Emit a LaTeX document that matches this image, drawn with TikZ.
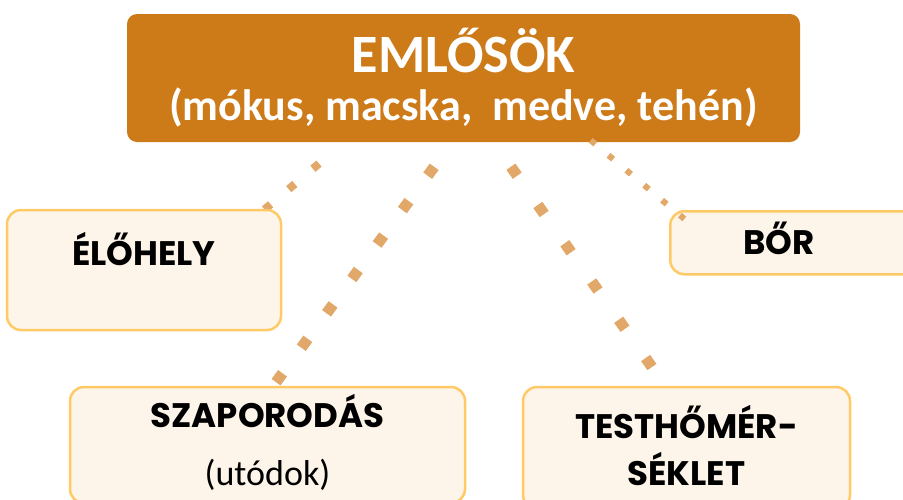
\documentclass[tikz,border=0pt]{standalone}
\usepackage{fontspec}
\setmainfont{Carlito}
\newfontfamily\headfont{Poppins}
\usepackage{tikz}
\usetikzlibrary{calc}

\pgfdeclarelayer{background}
\pgfsetlayers{background,main}

\definecolor{mammal}{HTML}{CD7A18}
\definecolor{boxfill}{HTML}{FEF5EA}
\definecolor{boxline}{HTML}{FFCA66}
\definecolor{dotcol}{HTML}{E1A869}

\begin{document}
\begin{tikzpicture}[
				x=1pt, y=-1pt,
				main style/.style={
					fill=mammal,
					draw=none,
					rounded corners=10pt,
					text=white,
					align=center,
					font=\fontsize{44pt}{48pt}\selectfont\bfseries,
					minimum width=673pt,
					minimum height=128pt,
					text height=92pt,
					text depth=8pt
				},
				box style/.style={
					fill=boxfill,
					draw=boxline,
					line width=2.5pt,
					rounded corners=14pt,
					align=center,
					text=black,
					font=\headfont\bfseries\fontsize{34pt}{47pt}\selectfont
				},
				dot line/.style 2 args={
					draw=dotcol,
					line width=#1,
					dash pattern=on #1 off #2
				}
				]
				
				\useasboundingbox (0,0) rectangle (903,499);
				\clip (0,0) rectangle (903,499);
				
				\node[main style] (top) at (463.5,78)
				{{\fontsize{54pt}{48pt}\selectfont EMLŐSÖK}\\(mókus, macska,~ medve, tehén)};
				
				\node[box style, minimum width=274pt, minimum height=120pt,
				text height=28pt, text depth=38pt] (elo) at (144,270)
				{ÉLŐHELY};
				
				\node[box style, anchor=north west, minimum height=63pt,
				inner ysep=0pt, inner xsep=73pt, text width=170pt, align=left,
				text height=43pt, text depth=20pt] (bor) at (669,210)
				{BŐR};
				
				\node[box style, minimum width=395pt, minimum height=116pt,
				font=\headfont\bfseries\fontsize{34pt}{58pt}\selectfont,
				text height=90pt, text depth=10pt] (szap) at (267.5,445)
				{SZAPORODÁS\\{\normalfont\fontsize{36pt}{58pt}\selectfont (utódok)}};
				
				\node[box style, minimum width=327pt, minimum height=122pt,
				text height=84pt, text depth=10pt] (test) at (686.5,448)
				{TESTHŐMÉR-\\SÉKLET};
				
				% dotted links, kept under the boxes
				\begin{pgfonlayer}{background}
				\draw[dot line={8pt}{23.6pt}] ($(top.south)+(-144.5,21.4)$) -- ($(elo.north)+(100,18)$);
				\draw[dot line={11pt}{31.7pt}] ($(top.south)+(-29.3,24.6)$) -- ($(szap.north)+(-12.5,25)$);
				\draw[dot line={11pt}{35.8pt}] ($(top.south)+(47.4,24.5)$) -- ($(test.north)+(-11.5,14)$);
				\end{pgfonlayer}
				% this one lies over the boxes
				\draw[dot line={6pt}{17.3pt}] ($(top.south)+(127.2,-1.9)$) -- ($(bor.north west)+(15.3,8.9)$);
				
			\end{tikzpicture}
\end{document}
